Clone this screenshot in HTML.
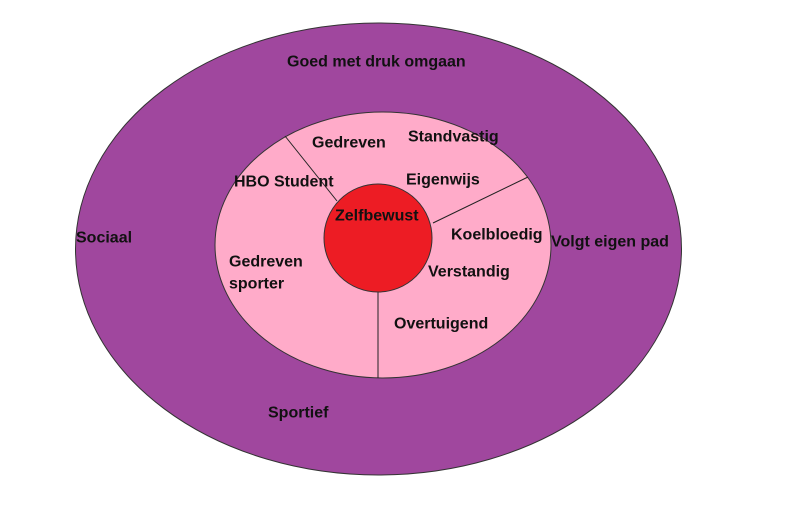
<!DOCTYPE html>
<html><head><meta charset="utf-8"><style>
html,body{margin:0;padding:0;background:#fff;}
svg text{font-family:"Liberation Sans",sans-serif;font-weight:bold;font-size:16px;fill:#111;dominant-baseline:central;}
</style></head><body>
<svg width="800" height="513" xmlns="http://www.w3.org/2000/svg">
<rect width="800" height="513" fill="#fff"/>
<ellipse cx="378.5" cy="249" rx="303" ry="226" fill="#a0479e" stroke="#333" stroke-width="1"/>
<ellipse cx="383" cy="245" rx="168" ry="133" fill="#ffabc9" stroke="#333" stroke-width="1"/>
<line x1="285" y1="136" x2="337" y2="201" stroke="#222" stroke-width="1"/>
<line x1="528" y1="177" x2="433" y2="223" stroke="#222" stroke-width="1"/>
<line x1="378" y1="292" x2="378" y2="378" stroke="#222" stroke-width="1"/>
<circle cx="378" cy="238" r="54" fill="#ed1c24" stroke="#333" stroke-width="1"/>
<text x="287" y="62">Goed met druk omgaan</text>
<text x="76" y="238">Sociaal</text>
<text x="551" y="242">Volgt eigen pad</text>
<text x="268" y="413">Sportief</text>
<text x="312" y="143">Gedreven</text>
<text x="408" y="137">Standvastig</text>
<text x="234" y="182">HBO Student</text>
<text x="406" y="180">Eigenwijs</text>
<text x="335" y="216">Zelfbewust</text>
<text x="451" y="235">Koelbloedig</text>
<text x="229" y="262">Gedreven</text>
<text x="229" y="284">sporter</text>
<text x="428" y="272">Verstandig</text>
<text x="394" y="324">Overtuigend</text>
</svg>
</body></html>
